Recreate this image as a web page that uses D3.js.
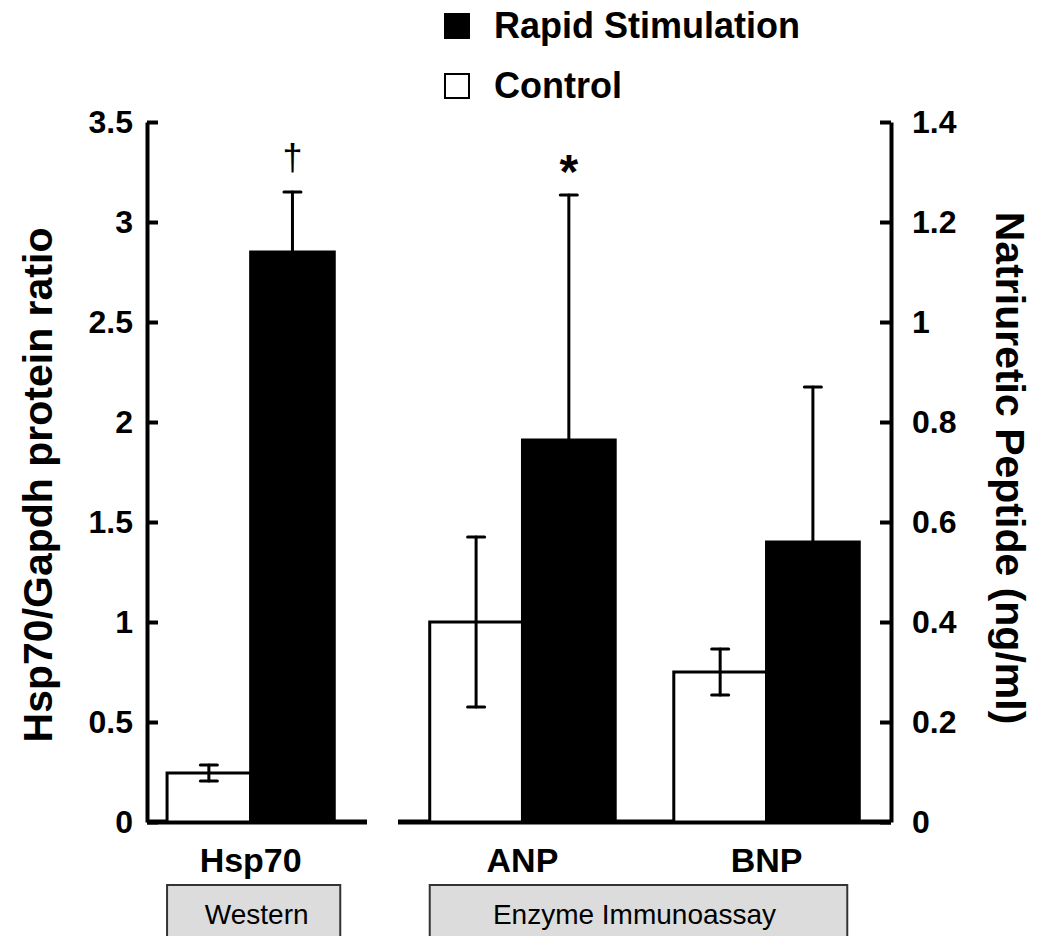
<!DOCTYPE html>
<html lang="en">
<head>
<meta charset="UTF-8">
<title>Hsp70 and natriuretic peptide after rapid stimulation</title>
<script src="https://d3js.org/d3.v7.min.js"></script>
<style>
  body { margin: 0; background: #fff; }
  svg { display: block; font-family: "Liberation Sans", Arial, sans-serif; }
  .axis path, .axis line { stroke: #000; stroke-width: 4; }
  .axis text { font-size: 32px; font-weight: bold; fill: #000; }
  .baseline { stroke: #000; stroke-width: 5; }
  .err { stroke: #000; stroke-width: 3; stroke-linecap: round; }
  .title { font-size: 41px; font-weight: bold; }
  .cat { font-size: 34px; font-weight: bold; }
  .legend text { font-size: 36px; font-weight: bold; }
  .assay rect { fill: #dcdcdc; stroke: #333; stroke-width: 2; }
  .assay text { font-size: 28px; }
</style>
</head>
<body>
<svg width="1044" height="936"></svg>
<script>
// values
const categories = ["Hsp70", "ANP", "BNP"];
const series = ["Control", "Rapid Stimulation"];
const controlMean = [0.245, 0.40, 0.30];
const controlErr = [0.04, 0.17, 0.046];
const rapidMean = [2.85, 0.764, 0.56];
const rapidErr = [0.30, 0.49, 0.31];
const marks = ["\u2020", "*", ""];
const leftTicks = [0, 0.5, 1, 1.5, 2, 2.5, 3, 3.5];
const rightTicks = [0, 0.2, 0.4, 0.6, 0.8, 1, 1.2, 1.4];
const assays = [
  {name: "Western", cats: ["Hsp70"]},
  {name: "Enzyme Immunoassay", cats: ["ANP", "BNP"]}
];

const svg = d3.select("svg");
const plotTop = 122, plotBottom = 822;
const leftX = 147, rightX = 891;

const yL = d3.scaleLinear().domain([0, 3.5]).range([plotBottom, plotTop]);
const yR = d3.scaleLinear().domain([0, 1.4]).range([plotBottom, plotTop]);

// two panels: western blot on the left, immunoassay on the right
const xLeft = d3.scaleBand().domain(assays[0].cats).range([leftX, 367])
  .paddingInner(0.24).paddingOuter(0.12).align(0.38);
const xRight = d3.scaleBand().domain(assays[1].cats).range([398, rightX])
  .paddingInner(0.24).paddingOuter(0.13);

const rows = categories.map((c, i) => {
  const x = i === 0 ? xLeft : xRight;
  const y = i === 0 ? yL : yR;
  const sub = d3.scaleBand().domain(series).range([x(c), x(c) + x.bandwidth()]);
  return {
    cat: c, x, y, sub, mark: marks[i],
    bars: [
      {s: series[0], v: controlMean[i], e: controlErr[i]},
      {s: series[1], v: rapidMean[i], e: rapidErr[i]}
    ]
  };
});

// baselines
[xLeft, xRight].forEach(sc => {
  svg.append("line").attr("class", "baseline")
    .attr("x1", sc.range()[0]).attr("x2", sc.range()[1])
    .attr("y1", plotBottom).attr("y2", plotBottom);
});

// bars
const grp = svg.selectAll(".grp").data(rows).join("g").attr("class", "grp");

grp.selectAll("rect.bar").data(d => d.bars.map(b => ({...b, row: d})))
  .join("rect").attr("class", "bar")
  .attr("x", d => d.row.sub(d.s))
  .attr("width", d => d.row.sub.bandwidth())
  .attr("y", d => d.row.y(d.v))
  .attr("height", d => d.row.y(0) - d.row.y(d.v))
  .attr("fill", d => d.s === "Control" ? "#fff" : "#000")
  .attr("stroke", "#000")
  .attr("stroke-width", 3);

// error bars
const capW = 17;
const eb = grp.selectAll("g.eb").data(d => d.bars.map(b => ({...b, row: d})))
  .join("g").attr("class", "eb")
  .attr("transform", d => `translate(${d.row.sub(d.s) + d.row.sub.bandwidth() / 2},0)`);
eb.append("line").attr("class", "err")
  .attr("y1", d => d.row.y(d.v - d.e)).attr("y2", d => d.row.y(d.v + d.e));
eb.append("line").attr("class", "err")
  .attr("x1", -capW / 2).attr("x2", capW / 2)
  .attr("y1", d => d.row.y(d.v + d.e)).attr("y2", d => d.row.y(d.v + d.e));
eb.append("line").attr("class", "err")
  .attr("x1", -capW / 2).attr("x2", capW / 2)
  .attr("y1", d => d.row.y(d.v - d.e)).attr("y2", d => d.row.y(d.v - d.e));

// significance marks above the rapid stimulation bars
grp.filter(d => d.mark).append("text")
  .attr("x", d => d.sub(series[1]) + d.sub.bandwidth() / 2)
  .attr("y", d => d.y(d.bars[1].v + d.bars[1].e) - (d.mark === "*" ? 7 : 22))
  .attr("text-anchor", "middle")
  .style("font-size", d => d.mark === "*" ? "48px" : "36px")
  .style("font-weight", d => d.mark === "*" ? "bold" : "normal")
  .text(d => d.mark);

// axes
svg.append("g").attr("class", "axis")
  .attr("transform", `translate(${leftX},0)`)
  .call(d3.axisLeft(yL).tickValues(leftTicks).tickFormat(d => String(d))
    .tickSizeInner(-11).tickSizeOuter(0).tickPadding(14));

svg.append("g").attr("class", "axis")
  .attr("transform", `translate(${rightX},0)`)
  .call(d3.axisRight(yR).tickValues(rightTicks).tickFormat(d => String(d))
    .tickSizeInner(-11).tickSizeOuter(0).tickPadding(21));

// axis titles
svg.append("text").attr("class", "title")
  .attr("transform", `translate(52,${(plotTop + plotBottom) / 2 + 13}) rotate(-90)`)
  .attr("text-anchor", "middle")
  .text("Hsp70/Gapdh protein ratio");

svg.append("text").attr("class", "title")
  .attr("transform", `translate(996,${(plotTop + plotBottom) / 2 - 4}) rotate(90)`)
  .attr("text-anchor", "middle")
  .text("Natriuretic Peptide (ng/ml)");

// category labels
svg.selectAll("text.cat").data(rows).join("text").attr("class", "cat")
  .attr("x", d => d.x(d.cat) + d.x.bandwidth() / 2)
  .attr("y", 872)
  .attr("text-anchor", "middle")
  .text(d => d.cat);

// assay boxes
const boxes = svg.selectAll("g.assay").data(assays).join("g").attr("class", "assay");
const boxX = d => {
  const sc = d.name === "Western" ? xLeft : xRight;
  return [sc(d.cats[0]), sc(d.cats[d.cats.length - 1]) + sc.bandwidth() - 12 * (d.cats.length - 1)];
};
boxes.append("rect")
  .attr("x", d => boxX(d)[0])
  .attr("width", d => boxX(d)[1] - boxX(d)[0] + (d.cats.length === 1 ? 6 : 0))
  .attr("y", 885).attr("height", 70);
boxes.append("text")
  .attr("x", d => (boxX(d)[0] + boxX(d)[1]) / 2 + (d.cats.length === 1 ? 6 : -4))
  .attr("y", 924)
  .attr("text-anchor", "middle")
  .text(d => d.name);

// legend
const legend = svg.append("g").attr("class", "legend")
  .attr("transform", "translate(444,0)");
const li = legend.selectAll("g").data(series.slice().reverse()).join("g")
  .attr("transform", (d, i) => `translate(0,${13 + i * 60})`);
li.append("rect")
  .attr("x", 1).attr("y", 1).attr("width", 24).attr("height", 24)
  .attr("fill", d => d === "Control" ? "#fff" : "#000")
  .attr("stroke", "#000").attr("stroke-width", 2);
li.append("text").attr("x", 50).attr("y", 25).text(d => d);
</script>
</body>
</html>
